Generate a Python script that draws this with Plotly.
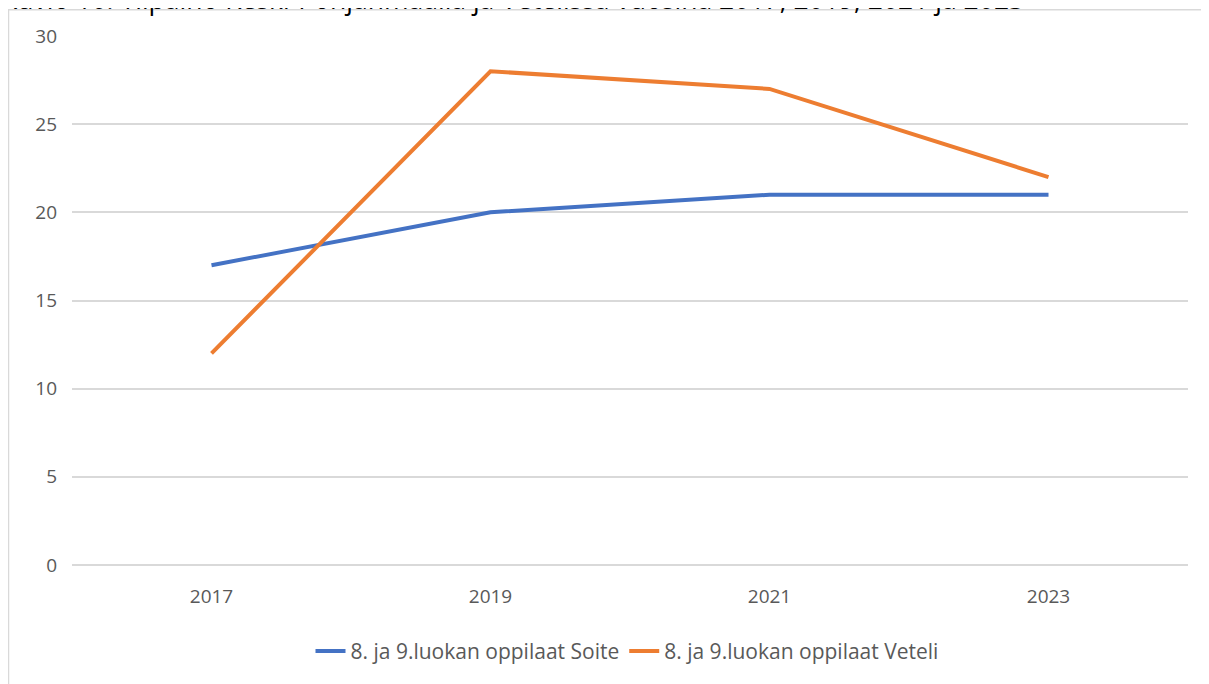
import plotly.graph_objects as go

years = ["2017", "2019", "2021", "2023"]
soite = [17, 20, 21, 21]
veteli = [12, 28, 27, 22]
series_names = ["8. ja 9.luokan oppilaat Soite", "8. ja 9.luokan oppilaat Veteli"]
title_text = "Kuvio 10. Ylipaino Keski-Pohjanmaalla ja Vetelissä vuosina 2017, 2019, 2021 ja 2023"

# page is rendered with an 8px body margin; compensate
OFF = 8
W, H = 1209 - OFF, 684 - OFF
PL, PR, PT, PB = 72, 1188, 36, 569  # plot area in page pixels
ML, MT = PL - OFF, PT - OFF
MR = W - (PR - OFF)
MB = H - (PB - OFF)
PW = PR - PL
PH = PB - PT

def px_x(p):
    return (p - PL) / PW

def px_y(p):
    return 1 - (p - PT) / PH

FONT = "Open Sans, DejaVu Sans, sans-serif"
GRAY = "#595959"

fig = go.Figure()
fig.add_trace(go.Scatter(x=years, y=soite, mode="lines", name=series_names[0],
                         line=dict(color="#4472C4", width=4)))
fig.add_trace(go.Scatter(x=years, y=veteli, mode="lines", name=series_names[1],
                         line=dict(color="#ED7D31", width=4)))

fig.update_layout(
    width=W, height=H,
    margin=dict(l=ML, r=MR, t=MT, b=MB, pad=0),
    paper_bgcolor="white", plot_bgcolor="white",
    font=dict(family=FONT, color=GRAY, size=19),
    showlegend=True,
    legend=dict(orientation="h", x=px_x(627), xanchor="center", y=px_y(656), yanchor="middle",
                font=dict(size=21, color=GRAY), itemwidth=30, tracegroupgap=0),
    xaxis=dict(type="category", range=[-0.5, 3.5], showgrid=False, zeroline=False,
               showline=False, ticks="", tickfont=dict(size=19, color=GRAY),
               ticklabelstandoff=18),
    yaxis=dict(range=[0, 30], dtick=5, showgrid=True, gridcolor="#D9D9D9", gridwidth=1.5,
               zeroline=True, zerolinecolor="#D9D9D9", zerolinewidth=1.5, showline=False,
               ticks="", tickfont=dict(size=19, color=GRAY), ticklabelstandoff=14),
    shapes=[dict(type="rect", xref="paper", yref="paper",
                 x0=px_x(8.5), x1=px_x(1230), y0=px_y(720), y1=px_y(9.5),
                 line=dict(color="#D9D9D9", width=1.5), fillcolor="rgba(0,0,0,0)", layer="below")],
    annotations=[dict(text=title_text, xref="paper", yref="paper", x=px_x(-1), y=px_y(-1),
                      xanchor="left", yanchor="middle", showarrow=False,
                      font=dict(size=26.5, color="#000000", family=FONT))],
)

fig.write_html("out.html")
